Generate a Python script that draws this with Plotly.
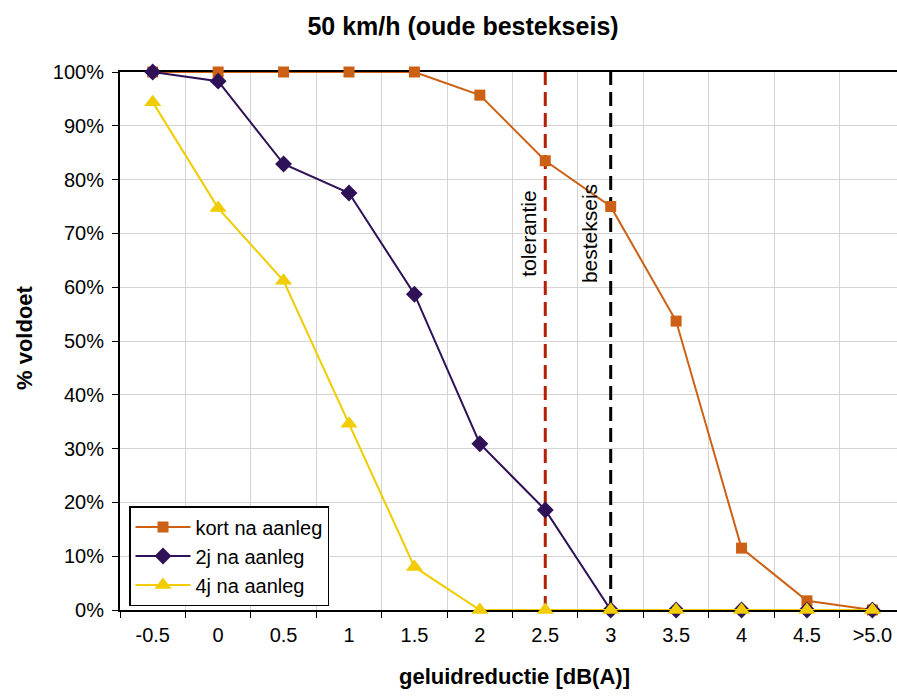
import plotly.graph_objects as go

categories = ["-0.5", "0", "0.5", "1", "1.5", "2", "2.5", "3", "3.5", "4", "4.5", ">5.0"]
kort = [1.00, 1.00, 1.00, 1.00, 1.00, 0.957, 0.835, 0.75, 0.537, 0.115, 0.017, 0.0]
twee_j = [1.00, 0.983, 0.829, 0.775, 0.587, 0.309, 0.186, 0.0, 0.0, 0.0, 0.0, 0.0]
vier_j = [0.944, 0.747, 0.612, 0.346, 0.080, 0.0, 0.0, 0.0, 0.0, 0.0, 0.0, 0.0]
tol_cat = "2.5"
best_cat = "3"

FONT = "Liberation Sans, Arial, sans-serif"
ORANGE = "#CC6014"
PURPLE = "#2E1157"
YELLOW = "#F0CC00"

W, H = 897, 696
L, T, B = 120, 72, 86
PW, PH = W - L, H - T - B  # plot width / height in px

fig = go.Figure()

fig.add_trace(go.Scatter(x=[tol_cat, tol_cat], y=[0, 1], mode="lines",
                         line=dict(color="#B22200", width=3, dash="14px,7px"),
                         showlegend=False, hoverinfo="skip", cliponaxis=False))
fig.add_trace(go.Scatter(x=[best_cat, best_cat], y=[0, 1], mode="lines",
                         line=dict(color="#000000", width=3, dash="14px,7px"),
                         showlegend=False, hoverinfo="skip", cliponaxis=False))

fig.add_trace(go.Scatter(x=categories, y=kort, name="kort na aanleg", mode="lines+markers",
                         line=dict(color=ORANGE, width=2),
                         marker=dict(symbol="square", size=11, color=ORANGE),
                         cliponaxis=False))
fig.add_trace(go.Scatter(x=categories, y=twee_j, name="2j na aanleg", mode="lines+markers",
                         line=dict(color=PURPLE, width=2),
                         marker=dict(symbol="diamond", size=13, color=PURPLE),
                         cliponaxis=False))
fig.add_trace(go.Scatter(x=categories, y=vier_j, name="4j na aanleg", mode="lines+markers",
                         line=dict(color=YELLOW, width=2),
                         marker=dict(symbol="triangle-up", size=15, color=YELLOW),
                         cliponaxis=False))

tol_idx = categories.index(tol_cat)
best_idx = categories.index(best_cat)
fig.add_annotation(x=tol_idx, y=0.70, xref="x", yref="y", text="tolerantie",
                   textangle=-90, showarrow=False, xshift=-17,
                   font=dict(family=FONT, size=21, color="#000"))
fig.add_annotation(x=best_idx, y=0.70, xref="x", yref="y", text="bestekseis",
                   textangle=-90, showarrow=False, xshift=-21,
                   font=dict(family=FONT, size=21, color="#000"))

# axis titles
fig.add_annotation(x=(514 - L) / PW, y=(T + PH - 676) / PH, xref="paper", yref="paper",
                   text="<b>geluidreductie [dB(A)]</b>", showarrow=False,
                   xanchor="center", yanchor="middle",
                   font=dict(family=FONT, size=22, color="#000"))
fig.add_annotation(x=(24 - L) / PW, y=(T + PH - 338) / PH, xref="paper", yref="paper",
                   text="<b>% voldoet</b>", showarrow=False, textangle=-90,
                   xanchor="center", yanchor="middle",
                   font=dict(family=FONT, size=22, color="#000"))

fig.update_layout(
    width=W, height=H,
    margin=dict(l=L, r=0, t=T, b=B),
    paper_bgcolor="white", plot_bgcolor="white",
    font=dict(family=FONT, size=20, color="#000"),
    title=dict(text="<b>50 km/h (oude bestekseis)</b>", x=463 / W, xanchor="center",
               y=1 - 26 / H, yanchor="middle", font=dict(family=FONT, size=25)),
    legend=dict(x=(129 - L) / PW, y=(T + PH - 606) / PH, xanchor="left", yanchor="bottom",
                bgcolor="white", bordercolor="#000", borderwidth=1.5,
                font=dict(family=FONT, size=20), itemwidth=55,
                tracegroupgap=0),
    xaxis=dict(type="category", categoryorder="array", categoryarray=categories,
               range=[-0.5, 11.376], tickson="boundaries", ticks="outside", ticklen=6,
               tickcolor="#000", showline=True, linecolor="#000", linewidth=2, mirror=True,
               showgrid=True, gridcolor="#D4D4D4", gridwidth=1, layer="below traces",
               ticklabelstandoff=6,
               tickfont=dict(family=FONT, size=20)),
    yaxis=dict(range=[0, 1], tickformat=".0%", dtick=0.1, ticks="outside", ticklen=6,
               tickcolor="#000", showline=True, linecolor="#000", linewidth=2,
               showgrid=True, gridcolor="#D4D4D4", gridwidth=1, zeroline=False,
               layer="below traces", ticklabelstandoff=4,
               tickfont=dict(family=FONT, size=20)),
)

fig.write_html("out.html",
               config={"displayModeBar": False},
               post_script="document.body.style.margin='0';document.body.style.overflow='hidden';")
